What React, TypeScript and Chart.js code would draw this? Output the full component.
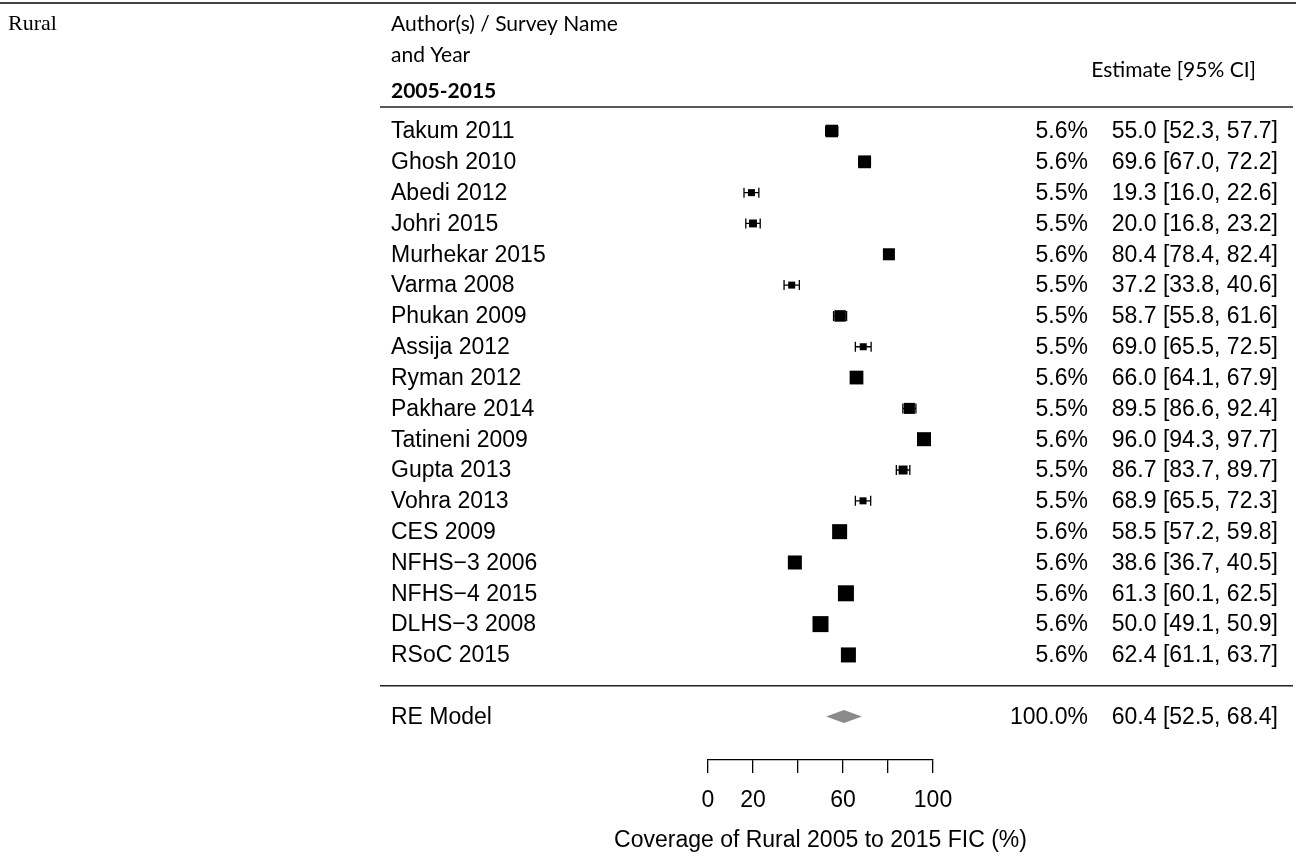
import { useEffect, useRef } from 'react';
import { Chart, registerables } from 'chart.js';

Chart.register(...registerables);

// ---------- data ----------
const studies = [
  'Takum 2011', 'Ghosh 2010', 'Abedi 2012', 'Johri 2015', 'Murhekar 2015', 'Varma 2008',
  'Phukan 2009', 'Assija 2012', 'Ryman 2012', 'Pakhare 2014', 'Tatineni 2009', 'Gupta 2013',
  'Vohra 2013', 'CES 2009', 'NFHS\u22123 2006', 'NFHS\u22124 2015', 'DLHS\u22123 2008', 'RSoC 2015',
];
const estimates = [55.0, 69.6, 19.3, 20.0, 80.4, 37.2, 58.7, 69.0, 66.0, 89.5, 96.0, 86.7, 68.9, 58.5, 38.6, 61.3, 50.0, 62.4];
const lowerCI = [52.3, 67.0, 16.0, 16.8, 78.4, 33.8, 55.8, 65.5, 64.1, 86.6, 94.3, 83.7, 65.5, 57.2, 36.7, 60.1, 49.1, 61.1];
const upperCI = [57.7, 72.2, 22.6, 23.2, 82.4, 40.6, 61.6, 72.5, 67.9, 92.4, 97.7, 89.7, 72.3, 59.8, 40.5, 62.5, 50.9, 63.7];
const weights = [5.6, 5.6, 5.5, 5.5, 5.6, 5.5, 5.5, 5.5, 5.6, 5.5, 5.6, 5.5, 5.5, 5.6, 5.6, 5.6, 5.6, 5.6];
// relative precision (0 = least precise, 1 = most precise)
const relPrecision = [0.62, 0.65, 0.0, 0.1, 0.56, 0.0, 0.5, 0.0, 0.75, 0.45, 0.78, 0.22, 0.0, 0.89, 0.78, 1.0, 1.0, 0.89];

const summaryLabel = 'RE Model';
const summaryWeight = 100.0;
const summaryEstimate = 60.4;
const summaryLower = 52.5;
const summaryUpper = 68.4;

const xTicks = [0, 20, 40, 60, 80, 100];
const xTickLabels = ['0', '20', '', '60', '', '100'];

const panelTitle = 'Rural';
const headerLines = ['Author(s) / Survey Name', 'and Year'];
const groupHeader = '2005-2015';
const estimateHeader = 'Estimate [95% CI]';
const axisTitle = 'Coverage of Rural 2005 to 2015 FIC (%)';

// ---------- layout / style ----------
const W = 1296;
const H = 858;
const SANS = "'Liberation Sans', Arial, Helvetica, sans-serif";
const HEAD = "Lato, 'Open Sans', sans-serif";
const SERIF = "'Liberation Serif', 'Times New Roman', serif";
const FS = 23;
const HFS = 21;
const ROW0_Y = 131;
const ROW_STEP = 30.82;
const AREA_TOP = 100;
const AXIS_Y = 760;
const Y_MIN = -(ROW0_Y - AREA_TOP) / ROW_STEP;
const Y_MAX = Y_MIN + (AXIS_Y - AREA_TOP) / ROW_STEP;
const SUMMARY_ROW = studies.length + 1;
const TEXT_RIGHT = 1278;
const HEADER_RIGHT = 1256;
const WEIGHT_RIGHT = 1088;

const sideFor = (i: number) => 7 + relPrecision[i] * 9;

const forestPlugin = {
  id: 'forest',
  beforeDatasetsDraw(chart: any) {
    const { ctx, scales } = chart;
    const xs = scales.x;
    const ys = scales.y;
    ctx.save();
    ctx.strokeStyle = '#000';
    ctx.lineWidth = 1.3;
    for (let i = 0; i < studies.length; i++) {
      const y = ys.getPixelForValue(i);
      const x1 = xs.getPixelForValue(lowerCI[i]);
      const x2 = xs.getPixelForValue(upperCI[i]);
      ctx.beginPath();
      ctx.moveTo(x1, y);
      ctx.lineTo(x2, y);
      ctx.moveTo(x1, y - 5);
      ctx.lineTo(x1, y + 5);
      ctx.moveTo(x2, y - 5);
      ctx.lineTo(x2, y + 5);
      ctx.stroke();
    }
    ctx.restore();
  },
  afterDraw(chart: any) {
    const { ctx, scales } = chart;
    const xs = scales.x;
    const ys = scales.y;
    ctx.save();
    // horizontal rules
    ctx.strokeStyle = '#000';
    ctx.lineWidth = 1.5;
    ctx.beginPath();
    ctx.moveTo(0, 3);
    ctx.lineTo(W, 3);
    ctx.stroke();
    ctx.strokeStyle = '#222';
    ctx.lineWidth = 1.5;
    const ruleY1 = 107;
    const ruleY2 = (ys.getPixelForValue(studies.length - 1) + ys.getPixelForValue(SUMMARY_ROW)) / 2;
    ctx.beginPath();
    ctx.moveTo(380, ruleY1);
    ctx.lineTo(1293, ruleY1);
    ctx.moveTo(380, ruleY2);
    ctx.lineTo(1293, ruleY2);
    ctx.stroke();

    // panel title
    ctx.fillStyle = '#000';
    ctx.textBaseline = 'alphabetic';
    ctx.textAlign = 'left';
    ctx.font = `22px ${SERIF}`;
    ctx.fillText(panelTitle, 8, 30);

    // header
    ctx.font = `${HFS}px ${HEAD}`;
    ctx.fillText(headerLines[0], 391, 31);
    ctx.fillText(headerLines[1], 391, 62);
    ctx.font = `bold ${HFS}px ${HEAD}`;
    ctx.fillText(groupHeader, 391, 98);
    ctx.font = `${HFS}px ${HEAD}`;
    ctx.textAlign = 'right';
    ctx.fillText(estimateHeader, HEADER_RIGHT, 77);

    // rows
    ctx.font = `${FS}px ${SANS}`;
    ctx.textBaseline = 'middle';
    for (let i = 0; i < studies.length; i++) {
      const y = ys.getPixelForValue(i) + 1;
      ctx.textAlign = 'left';
      ctx.fillText(studies[i], 391, y);
      ctx.textAlign = 'right';
      ctx.fillText(`${weights[i].toFixed(1)}%`, WEIGHT_RIGHT, y);
      ctx.fillText(`${estimates[i].toFixed(1)} [${lowerCI[i].toFixed(1)}, ${upperCI[i].toFixed(1)}]`, TEXT_RIGHT, y);
    }
    const sy = ys.getPixelForValue(SUMMARY_ROW);
    ctx.textAlign = 'left';
    ctx.fillText(summaryLabel, 391, sy + 1);
    ctx.textAlign = 'right';
    ctx.fillText(`${summaryWeight.toFixed(1)}%`, WEIGHT_RIGHT, sy + 1);
    ctx.fillText(`${summaryEstimate.toFixed(1)} [${summaryLower.toFixed(1)}, ${summaryUpper.toFixed(1)}]`, TEXT_RIGHT, sy + 1);

    // axis title
    ctx.textAlign = 'center';
    ctx.fillText(axisTitle, (xs.left + xs.right) / 2, 841);

    // summary diamond
    ctx.fillStyle = '#8a8a8a';
    ctx.beginPath();
    ctx.moveTo(xs.getPixelForValue(summaryLower), sy);
    ctx.lineTo(xs.getPixelForValue(summaryEstimate), sy - 6.5);
    ctx.lineTo(xs.getPixelForValue(summaryUpper), sy);
    ctx.lineTo(xs.getPixelForValue(summaryEstimate), sy + 6.5);
    ctx.closePath();
    ctx.fill();
    ctx.restore();
  },
};

export default function App() {
  const ref = useRef<HTMLCanvasElement | null>(null);
  useEffect(() => {
    document.body.style.margin = '0';
    const canvas = ref.current;
    if (!canvas) return;
    const chart = new Chart(canvas, {
      type: 'scatter',
      data: {
        datasets: [
          {
            data: estimates.map((e, i) => ({ x: e, y: i })),
            pointStyle: 'rect',
            pointRadius: (c: any) => sideFor(c.dataIndex) / Math.SQRT2,
            pointHoverRadius: (c: any) => sideFor(c.dataIndex) / Math.SQRT2,
            backgroundColor: '#000',
            borderColor: '#000',
            borderWidth: 0,
            clip: false,
          } as any,
        ],
      },
      options: {
        animation: false,
        responsive: false,
        maintainAspectRatio: false,
        events: [],
        layout: { padding: { left: 708, right: W - 933, top: AREA_TOP, bottom: 0 } },
        plugins: { legend: { display: false }, tooltip: { enabled: false } },
        scales: {
          x: {
            type: 'linear',
            position: 'bottom',
            min: 0,
            max: 100,
            afterBuildTicks: (scale: any) => {
              scale.ticks = xTicks.map((v) => ({ value: v }));
            },
            afterFit: (scale: any) => {
              scale.height = H - AXIS_Y;
            },
            ticks: {
              autoSkip: false,
              maxRotation: 0,
              padding: 14,
              color: '#000',
              font: { family: SANS, size: FS },
              callback: (_v: any, idx: number) => xTickLabels[idx],
            },
            grid: {
              display: true,
              drawOnChartArea: false,
              drawTicks: true,
              tickLength: 13,
              color: '#000',
              lineWidth: 1.3,
            },
            border: { display: true, color: '#000', width: 1.3 },
            title: { display: false },
          },
          y: {
            type: 'linear',
            display: false,
            reverse: true,
            min: Y_MIN,
            max: Y_MAX,
          },
        },
      } as any,
      plugins: [forestPlugin],
    });
    return () => chart.destroy();
  }, []);
  return (
    <div style={{ position: 'absolute', left: 0, top: 0, width: W, height: H, background: '#fff' }}>
      <canvas ref={ref} width={W} height={H} style={{ width: W, height: H, display: 'block' }} />
    </div>
  );
}
